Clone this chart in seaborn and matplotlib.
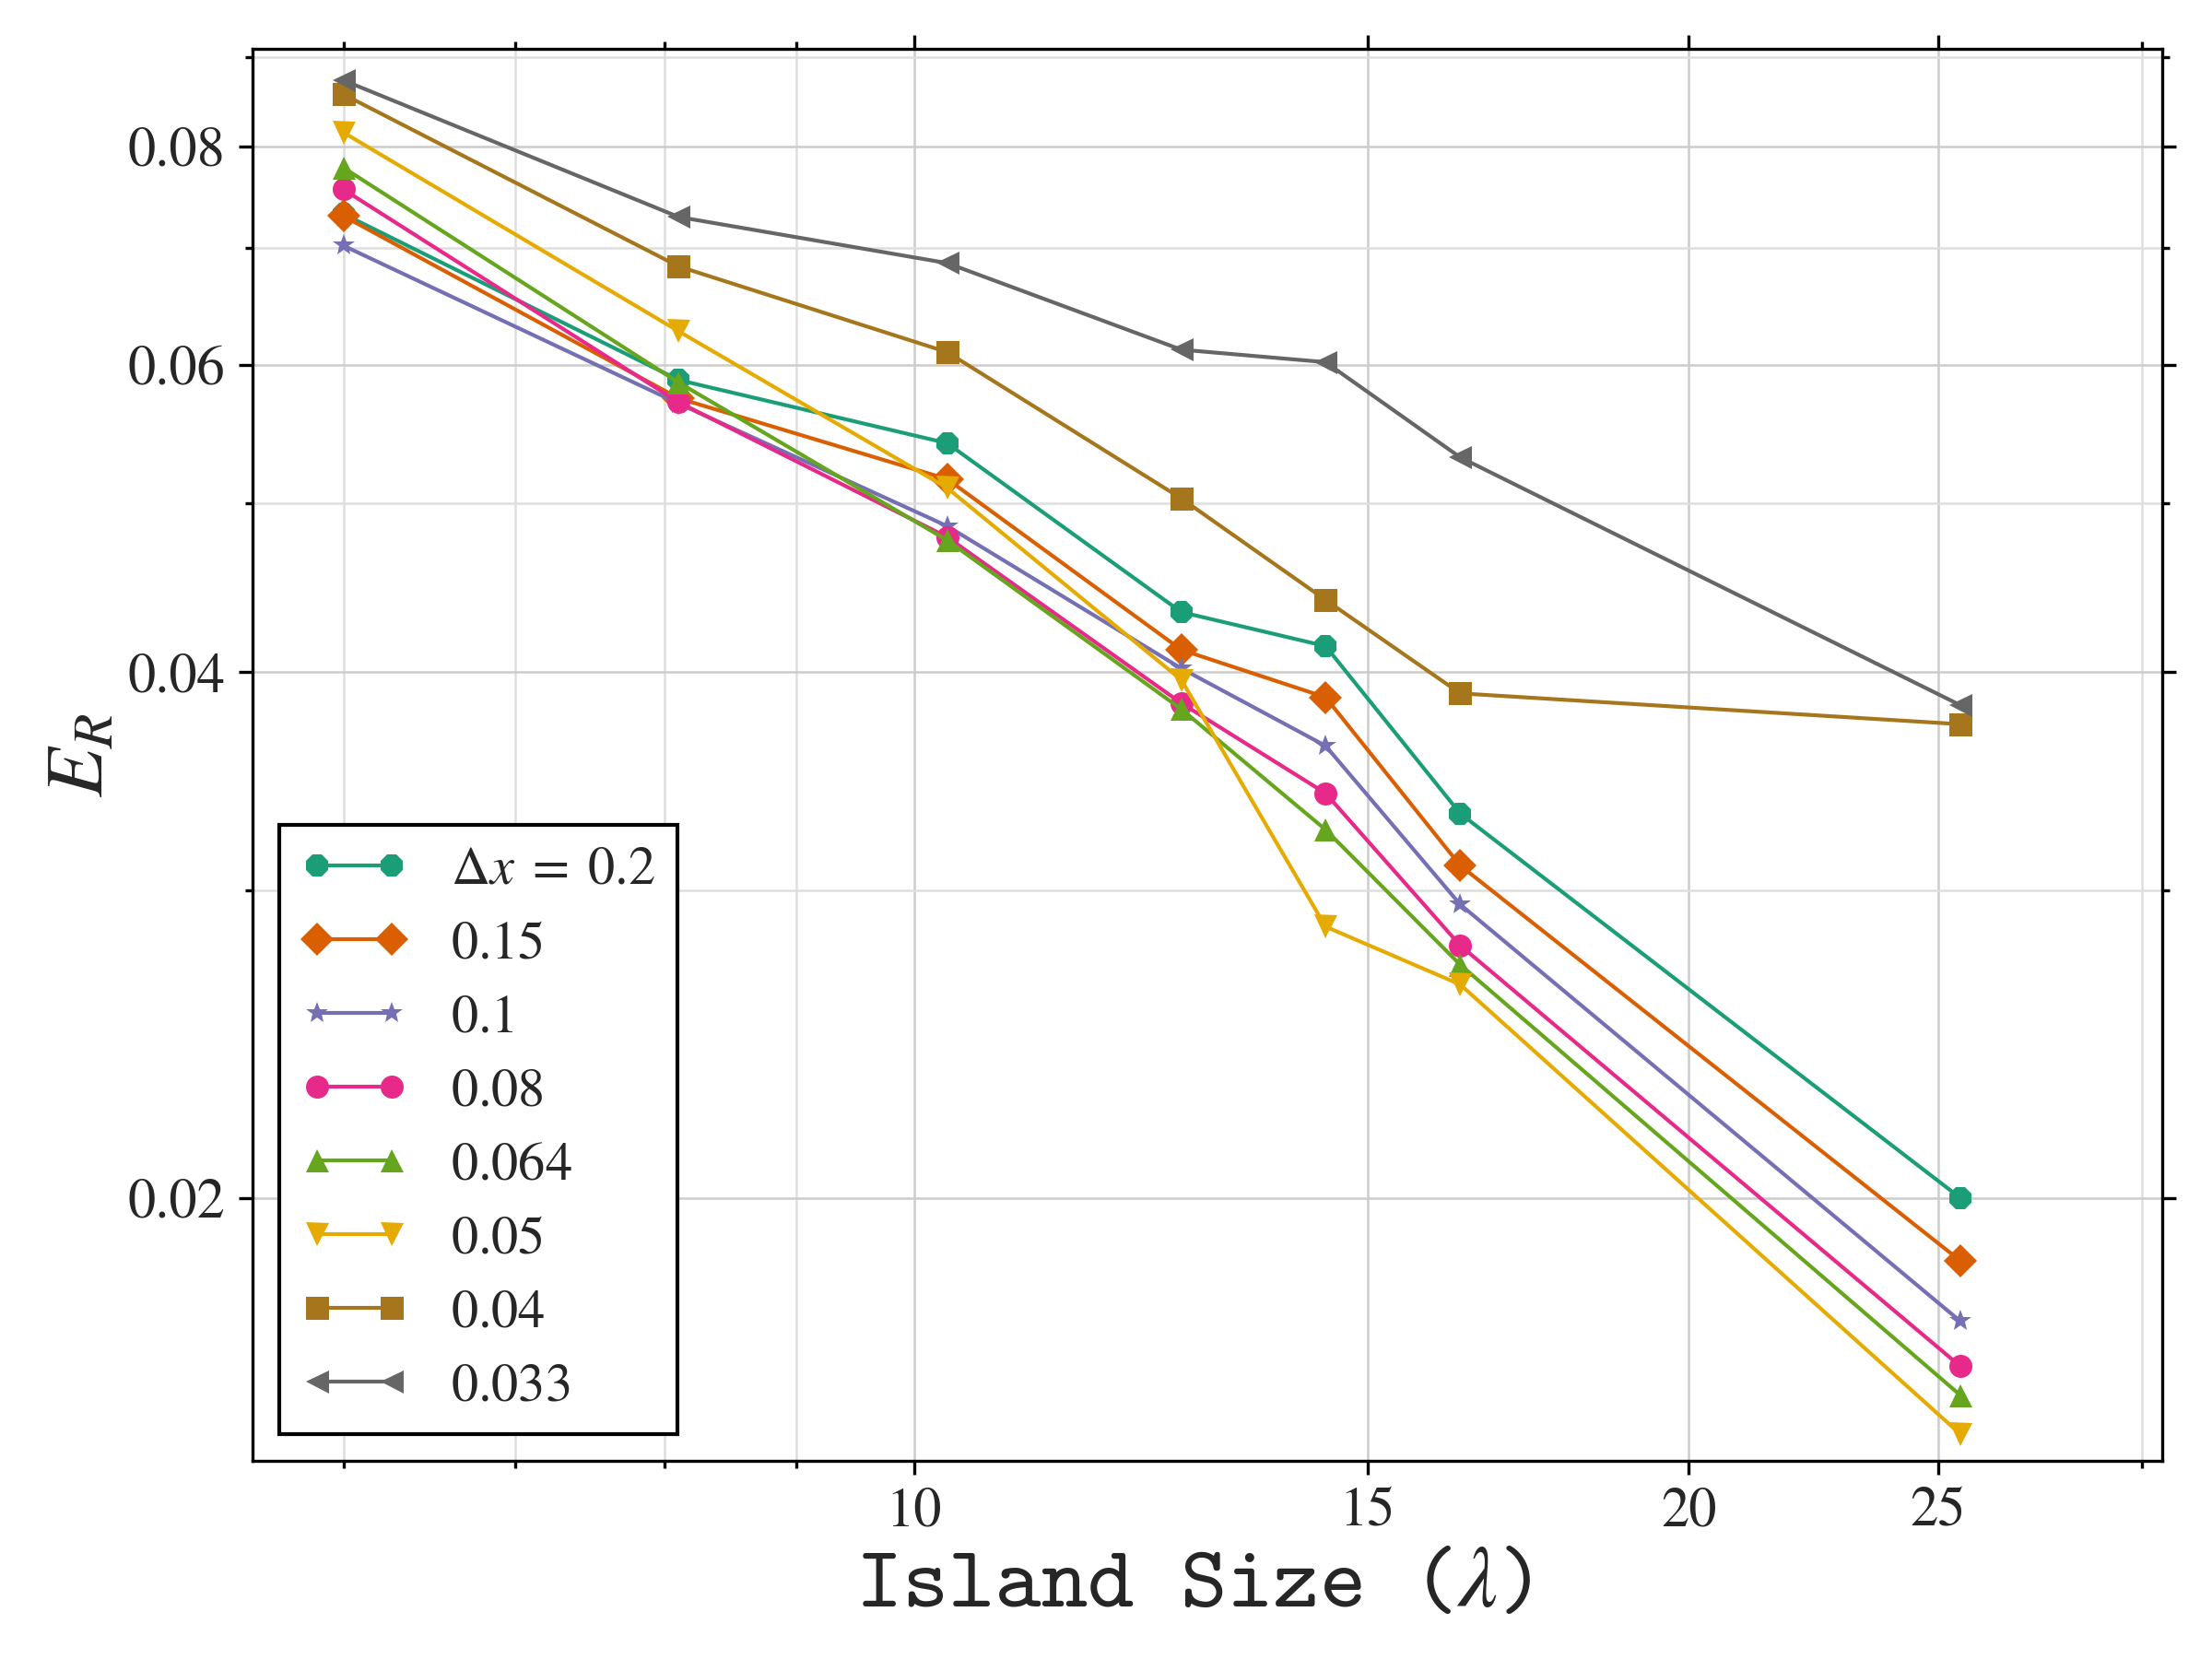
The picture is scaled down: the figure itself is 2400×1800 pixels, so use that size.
import numpy as np
import pandas as pd
import seaborn as sns
import matplotlib.pyplot as plt
from matplotlib.ticker import FixedLocator, NullFormatter

# island sizes (in wavelengths) and relative error for each grid spacing
island_size = [6.0, 8.1, 10.3, 12.7, 14.45, 16.3, 25.5]

dx_labels = [r'$\Delta x\;=\;0.2$', r'$0.15$', r'$0.1$', r'$0.08$',
             r'$0.064$', r'$0.05$', r'$0.04$', r'$0.033$']

err_dx_0200 = [0.0732, 0.0588, 0.0541, 0.0433, 0.0414, 0.0332, 0.0200]
err_dx_0150 = [0.0730, 0.0574, 0.0516, 0.0412, 0.0387, 0.0310, 0.01841]
err_dx_0100 = [0.0702, 0.0570, 0.0485, 0.0402, 0.0363, 0.02945, 0.0170]
err_dx_0080 = [0.0756, 0.0571, 0.0478, 0.0384, 0.0341, 0.0279, 0.01602]
err_dx_0064 = [0.0778, 0.0586, 0.0476, 0.0381, 0.0325, 0.0272, 0.01542]
err_dx_0050 = [0.0815, 0.0627, 0.0510, 0.0396, 0.0286, 0.0265, 0.01465]
err_dx_0040 = [0.0857, 0.0683, 0.0610, 0.0503, 0.0440, 0.0389, 0.03735]
err_dx_0033 = [0.0873, 0.0729, 0.0686, 0.0612, 0.0602, 0.0531, 0.0383]

all_err = [err_dx_0200, err_dx_0150, err_dx_0100, err_dx_0080,
           err_dx_0064, err_dx_0050, err_dx_0040, err_dx_0033]
markers = ['8', 'D', '*', 'o', '^', 'v', 's', '<']

x_major = [10, 15, 20, 25]
x_minor = [6, 7, 8, 9, 30]
y_major = [0.02, 0.04, 0.06, 0.08]
y_minor = [0.03, 0.05, 0.07, 0.09]

sns.set_style('ticks')
plt.rcParams['font.family'] = ['STIXGeneral', 'Liberation Serif', 'DejaVu Sans']
plt.rcParams['mathtext.fontset'] = 'stix'

colors = sns.color_palette('Dark2', 8)

fig, ax = plt.subplots(figsize=(8, 6), dpi=300)
fig.subplots_adjust(left=0.114, right=0.9775, top=0.9706, bottom=0.1194)

for err, lab, mk, col in zip(all_err, dx_labels, markers, colors):
    df = pd.DataFrame({'size': island_size, 'err': err})
    sns.lineplot(data=df, x='size', y='err', ax=ax, color=col, marker=mk,
                 markersize=6, markeredgewidth=0, linewidth=1.0, label=lab)

ax.set_xscale('log')
ax.set_yscale('log')
ax.set_xlim(5.53, 30.55)
ax.set_ylim(0.01414, 0.0910)

ax.xaxis.set_major_locator(FixedLocator(x_major))
ax.xaxis.set_minor_locator(FixedLocator(x_minor))
ax.set_xticklabels([str(v) for v in x_major])
ax.xaxis.set_minor_formatter(NullFormatter())
ax.yaxis.set_major_locator(FixedLocator(y_major))
ax.yaxis.set_minor_locator(FixedLocator(y_minor))
ax.set_yticklabels([f'{v:.2f}' for v in y_major])
ax.yaxis.set_minor_formatter(NullFormatter())

ax.tick_params(which='both', direction='out', top=True, right=True,
               width=0.8, labelsize=14.5, color='black')
ax.tick_params(which='major', length=3.5)
ax.tick_params(which='minor', length=2)

ax.grid(which='major', color='0.8', linewidth=0.6)
ax.grid(which='minor', color='0.87', linewidth=0.6)
ax.set_axisbelow(True)
for s in ax.spines.values():
    s.set_color('black')
    s.set_linewidth(0.8)

ax.set_xlabel(r'Island Size ($\lambda$)', family=['cmtt10', 'Liberation Mono'],
              fontsize=23)
ax.xaxis.label.set_x(0.4926)
ax.set_ylabel(r'$E_R$', fontsize=21, labelpad=2)

leg = ax.legend(loc='lower left', fontsize=14, numpoints=2, fancybox=False,
                framealpha=1, edgecolor='black', labelspacing=0.45)
leg.get_frame().set_linewidth(1.0)

fig.savefig('out.png', dpi=300)
